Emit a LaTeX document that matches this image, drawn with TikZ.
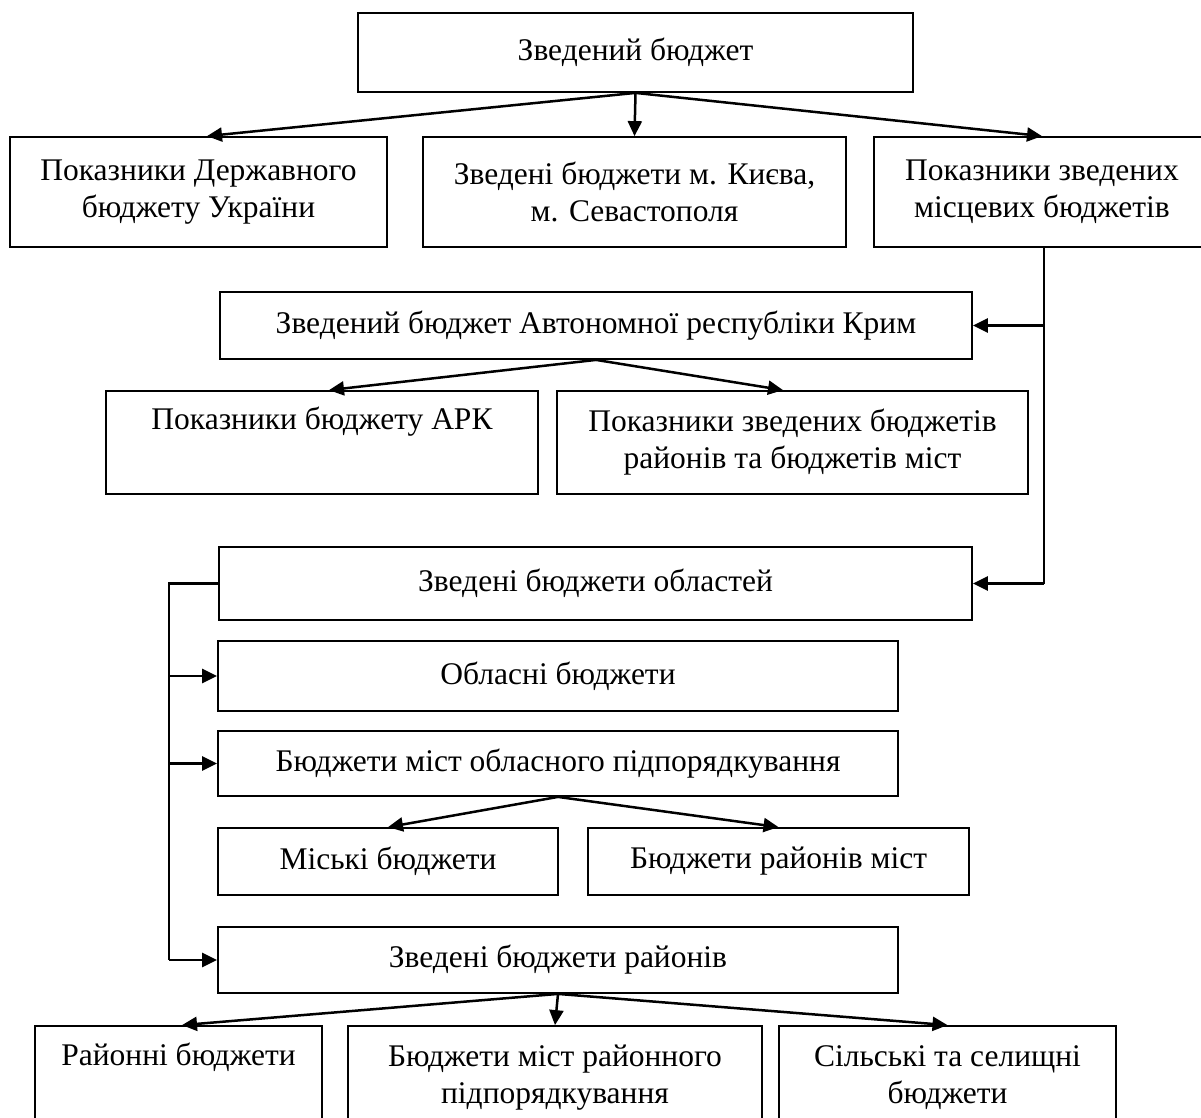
\documentclass[tikz,border=0pt]{standalone}
\usepackage{fontspec}
\setmainfont{Liberation Serif}
\usetikzlibrary{arrows.meta}
\begin{document}
\begin{tikzpicture}[x=1pt,y=-1pt,
  box/.style={draw, line width=1.8pt, inner sep=0pt, align=center,
    font=\fontsize{31.5}{37}\selectfont},
  arr/.style={line width=2.5pt, -{Triangle[length=15pt,width=14pt]}},
  ln/.style={line width=2.5pt}]
\useasboundingbox[fill=white] (0,0) rectangle (1201,1117);
% boxes
\node[box, minimum width=555pt, minimum height=79pt] (top) at (635.5,52.5) {Зведений бюджет};
\node[box, minimum width=377pt, minimum height=110pt] (s1) at (198.5,192) {Показники Державного\\бюджету України};
\node[box, minimum width=423pt, minimum height=110pt] (s2) at (634.5,192) {Зведені бюджети м. Києва,\\м. Севастополя};
\node[box, minimum width=336pt, minimum height=110pt] (s3) at (1042,192) {Показники зведених\\місцевих бюджетів};
\node[box, minimum width=752pt, minimum height=67pt] (ark) at (596,325.5) {Зведений бюджет Автономної республіки Крим};
\node[box, minimum width=432pt, minimum height=103pt] (arkA) at (322,442.5) {Показники бюджету АРК\\\strut};
\node[box, minimum width=471pt, minimum height=103pt] (arkB) at (792.5,442.5) {Показники зведених бюджетів\\районів та бюджетів міст};
\node[box, minimum width=753pt, minimum height=73pt] (obl) at (595.5,583.5) {Зведені бюджети областей};
\node[box, minimum width=680pt, minimum height=70pt] (oblB) at (558,676) {Обласні бюджети};
\node[box, minimum width=680pt, minimum height=65pt] (mist) at (558,763.5) {Бюджети міст обласного підпорядкування};
\node[box, minimum width=340pt, minimum height=67pt] (miski) at (388,861.5) {Міські бюджети};
\node[box, minimum width=381pt, minimum height=67pt] (rmist) at (778.5,861.5) {Бюджети районів міст};
\node[box, minimum width=680pt, minimum height=66pt] (rai) at (558,960) {Зведені бюджети районів};
\node[box, minimum width=287pt, minimum height=104pt] (b1) at (178.5,1078) {Районні бюджети\\\strut};
\node[box, minimum width=414pt, minimum height=104pt] (b2) at (555,1078) {Бюджети міст районного\\підпорядкування};
\node[box, minimum width=337pt, minimum height=104pt] (b3) at (947.5,1078) {Сільські та селищні\\бюджети};
% connectors
\draw[arr] (top.south) -- ([xshift=8.5pt]s1.north);
\draw[arr] (top.south) -- (s2.north);
\draw[arr] (top.south) -- (s3.north);
\coordinate (rbend) at ([xshift=2pt]s3.south |- obl.east);
\draw[ln] ([xshift=2pt]s3.south) -- (rbend);
\draw[arr] ([xshift=2pt]s3.south |- ark.east) -- (ark.east);
\draw[arr] (rbend) -- (obl.east);
\draw[arr] (ark.south) -- ([xshift=7pt]arkA.north);
\draw[arr] (ark.south) -- ([xshift=-9.5pt]arkB.north);
\coordinate (lbend) at ([xshift=-49pt]obl.west);
\draw[ln] (obl.west) -- (lbend) -- (lbend |- rai.west);
\draw[arr] (lbend |- oblB.west) -- (oblB.west);
\draw[arr] (lbend |- mist.west) -- (mist.west);
\draw[arr] (lbend |- rai.west) -- (rai.west);
\draw[arr] (mist.south) -- (miski.north);
\draw[arr] (mist.south) -- (rmist.north);
\draw[arr] (rai.south) -- ([xshift=3.5pt]b1.north);
\draw[arr] (rai.south) -- (b2.north);
\draw[arr] (rai.south) -- (b3.north);
\end{tikzpicture}
\end{document}
